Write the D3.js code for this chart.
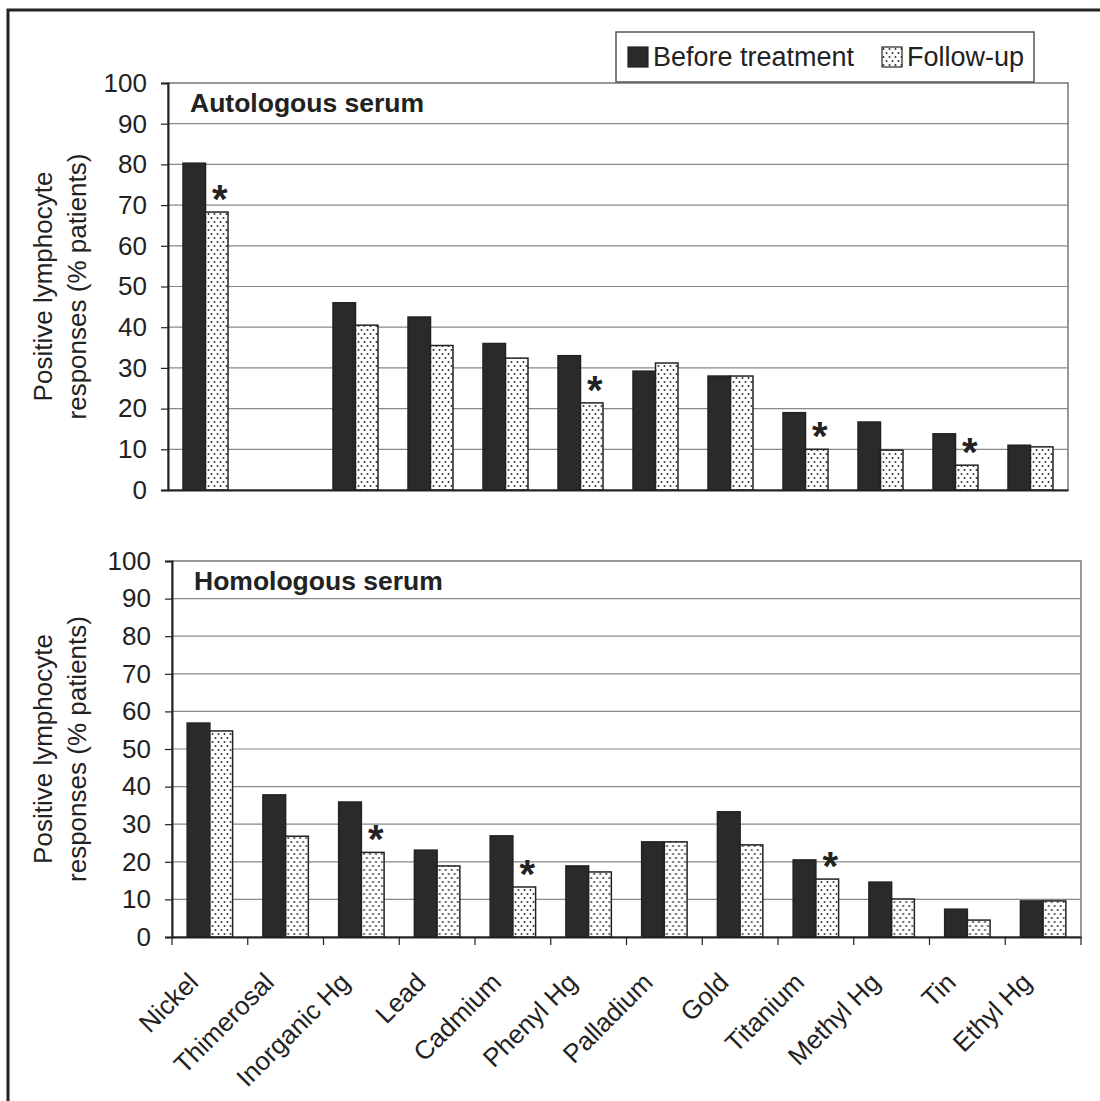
<!DOCTYPE html>
<html>
<head>
    <meta charset="utf-8">
    <title>Lymphocyte responses</title>
    <style>
        body { margin: 0; background: #fff; }
        text { font-family: Arial, "Liberation Sans", sans-serif; fill: #222; }
    </style>
</head>
<body>
<script src="https://d3js.org/d3.v7.min.js"></script>
<script>
    // Data
    const categories = ['Nickel', 'Thimerosal', 'Inorganic Hg', 'Lead', 'Cadmium', 'Phenyl Hg',
        'Palladium', 'Gold', 'Titanium', 'Methyl Hg', 'Tin', 'Ethyl Hg'];
    const seriesNames = ['Before treatment', 'Follow-up'];

    const autoBefore = [80.3, 0, 46, 42.5, 36, 33, 29.2, 28, 19, 16.7, 13.8, 11];
    const autoFollow = [68.3, 0, 40.5, 35.5, 32.4, 21.4, 31.2, 28, 10, 9.8, 6.1, 10.6];
    const autoStar = ['Nickel', 'Phenyl Hg', 'Titanium', 'Tin'];

    const homoBefore = [56.9, 37.8, 35.9, 23.1, 26.9, 18.9, 25.3, 33.3, 20.5, 14.6, 7.4, 9.6];
    const homoFollow = [54.8, 26.8, 22.5, 18.9, 13.3, 17.3, 25.3, 24.5, 15.4, 10.1, 4.5, 9.6];
    const homoStar = ['Inorganic Hg', 'Cadmium', 'Titanium'];

    const yTicks = [0, 10, 20, 30, 40, 50, 60, 70, 80, 90, 100];

    const W = 1100, H = 1101;
    const INK = '#222';

    const svg = d3.select('body').append('svg')
        .attr('width', W)
        .attr('height', H);

    // dotted fill for follow-up bars
    const defs = svg.append('defs');
    const pat = defs.append('pattern')
        .attr('id', 'dots')
        .attr('patternUnits', 'userSpaceOnUse')
        .attr('width', 6)
        .attr('height', 8);
    pat.append('rect').attr('width', 6).attr('height', 8).attr('fill', '#fff');
    pat.append('circle').attr('cx', 1.5).attr('cy', 2).attr('r', 1).attr('fill', '#333');
    pat.append('circle').attr('cx', 4.5).attr('cy', 6).attr('r', 1).attr('fill', '#333');

    // outer frame
    svg.append('rect')
        .attr('x', 8).attr('y', 10)
        .attr('width', 1110).attr('height', 1110)
        .attr('fill', 'none')
        .attr('stroke', INK)
        .attr('stroke-width', 3);

    function panel(opts) {
        const {x0, x1, y0, y1, title, before, follow, stars, xTicks} = opts;
        const g = svg.append('g');

        const x = d3.scaleBand().domain(categories).range([x0, x1]);
        const xs = d3.scaleBand().domain(seriesNames).range([0, x.bandwidth()]).paddingOuter(0.667);
        const y = d3.scaleLinear().domain([0, 100]).range([y1, y0]);

        // plot area border
        g.append('rect')
            .attr('x', x0).attr('y', y0)
            .attr('width', x1 - x0).attr('height', y1 - y0)
            .attr('fill', 'none')
            .attr('stroke', '#777')
            .attr('stroke-width', 1.5);

        // gridlines
        g.append('g')
            .selectAll('line')
            .data(yTicks.filter(t => t > 0 && t < 100))
            .join('line')
            .attr('x1', x0).attr('x2', x1)
            .attr('y1', d => y(d)).attr('y2', d => y(d))
            .attr('stroke', '#888')
            .attr('stroke-width', 1.2);

        // bars
        const rows = categories.map((c, i) => ({cat: c, vals: [before[i], follow[i]]}));
        const grp = g.append('g').selectAll('g')
            .data(rows)
            .join('g')
            .attr('transform', d => `translate(${x(d.cat)},0)`);
        grp.selectAll('rect')
            .data(d => d.vals.map((v, k) => ({key: seriesNames[k], v})).filter(e => e.v > 0))
            .join('rect')
            .attr('x', d => xs(d.key))
            .attr('width', xs.bandwidth())
            .attr('y', d => y(d.v))
            .attr('height', d => y(0) - y(d.v))
            .attr('fill', d => d.key === seriesNames[0] ? '#2a2a2a' : 'url(#dots)')
            .attr('stroke', INK)
            .attr('stroke-width', 1.5);

        // significance asterisks
        g.append('g').selectAll('text')
            .data(stars)
            .join('text')
            .attr('x', d => x(d) + xs(seriesNames[1]) + xs.bandwidth() / 2 + 3)
            .attr('y', d => y(follow[categories.indexOf(d)]) + 1)
            .attr('text-anchor', 'middle')
            .attr('font-size', 40)
            .attr('font-weight', 'bold')
            .attr('fill', '#333')
            .text('*');

        // y axis
        const yAxis = g.append('g')
            .attr('transform', `translate(${x0},0)`)
            .call(d3.axisLeft(y).tickValues(yTicks).tickSize(7).tickPadding(14));
        yAxis.select('.domain').attr('stroke', INK).attr('stroke-width', 2);
        yAxis.selectAll('.tick line').attr('stroke', INK).attr('stroke-width', 1.2);
        yAxis.selectAll('.tick text')
            .attr('font-size', 26)
            .attr('font-family', 'Arial, "Liberation Sans", sans-serif')
            .attr('fill', INK);

        // x axis line (with ticks only on the lower panel)
        const xAxis = g.append('g')
            .attr('transform', `translate(0,${y1})`)
            .call(d3.axisBottom(x).tickSize(0).tickFormat(''));
        xAxis.select('.domain').attr('stroke', INK).attr('stroke-width', 2);
        if (xTicks) {
            g.append('g').selectAll('line')
                .data(categories.concat(['_end']))
                .join('line')
                .attr('x1', d => d === '_end' ? x1 : x(d))
                .attr('x2', d => d === '_end' ? x1 : x(d))
                .attr('y1', y1).attr('y2', y1 + 8)
                .attr('stroke', INK)
                .attr('stroke-width', 1.2);
        }

        // panel title
        g.append('text')
            .attr('x', x0 + 22)
            .attr('y', y0 + 29)
            .attr('font-size', 26.5)
            .attr('font-weight', 'bold')
            .text(title);

        // y label
        const cy = (y0 + y1) / 2;
        const lab = g.append('text')
            .attr('transform', `translate(52,${cy}) rotate(-90)`)
            .attr('text-anchor', 'middle')
            .attr('font-size', 26)
            .attr('fill', '#333');
        lab.append('tspan').attr('x', 0).attr('y', 0).text('Positive lymphocyte');
        lab.append('tspan').attr('x', 0).attr('y', 34).text('responses (% patients)');

        return x;
    }

    panel({x0: 168, x1: 1068, y0: 83, y1: 490, title: 'Autologous serum',
        before: autoBefore, follow: autoFollow, stars: autoStar, xTicks: false});
    const xb = panel({x0: 172, x1: 1081, y0: 561, y1: 937, title: 'Homologous serum',
        before: homoBefore, follow: homoFollow, stars: homoStar, xTicks: true});

    // category labels under the lower panel
    svg.append('g').selectAll('text')
        .data(categories)
        .join('text')
        .attr('transform', d => `translate(${xb(d) + xb.bandwidth() / 2 - 10},984) rotate(-45)`)
        .attr('text-anchor', 'end')
        .attr('font-size', 26)
        .attr('fill', '#333')
        .text(d => d);

    // legend
    const leg = svg.append('g').attr('transform', 'translate(616,32)');
    leg.append('rect')
        .attr('width', 418).attr('height', 50)
        .attr('fill', '#fff')
        .attr('stroke', '#555')
        .attr('stroke-width', 1.5);
    const items = leg.selectAll('g')
        .data(seriesNames)
        .join('g')
        .attr('transform', (d, i) => `translate(${i === 0 ? 12 : 266},15)`);
    items.append('rect')
        .attr('width', 20).attr('height', 20)
        .attr('fill', (d, i) => i === 0 ? '#2a2a2a' : 'url(#dots)')
        .attr('stroke', INK)
        .attr('stroke-width', 1.2);
    items.append('text')
        .attr('x', 25)
        .attr('y', 19)
        .attr('font-size', 27)
        .text(d => d);
</script>
</body>
</html>
